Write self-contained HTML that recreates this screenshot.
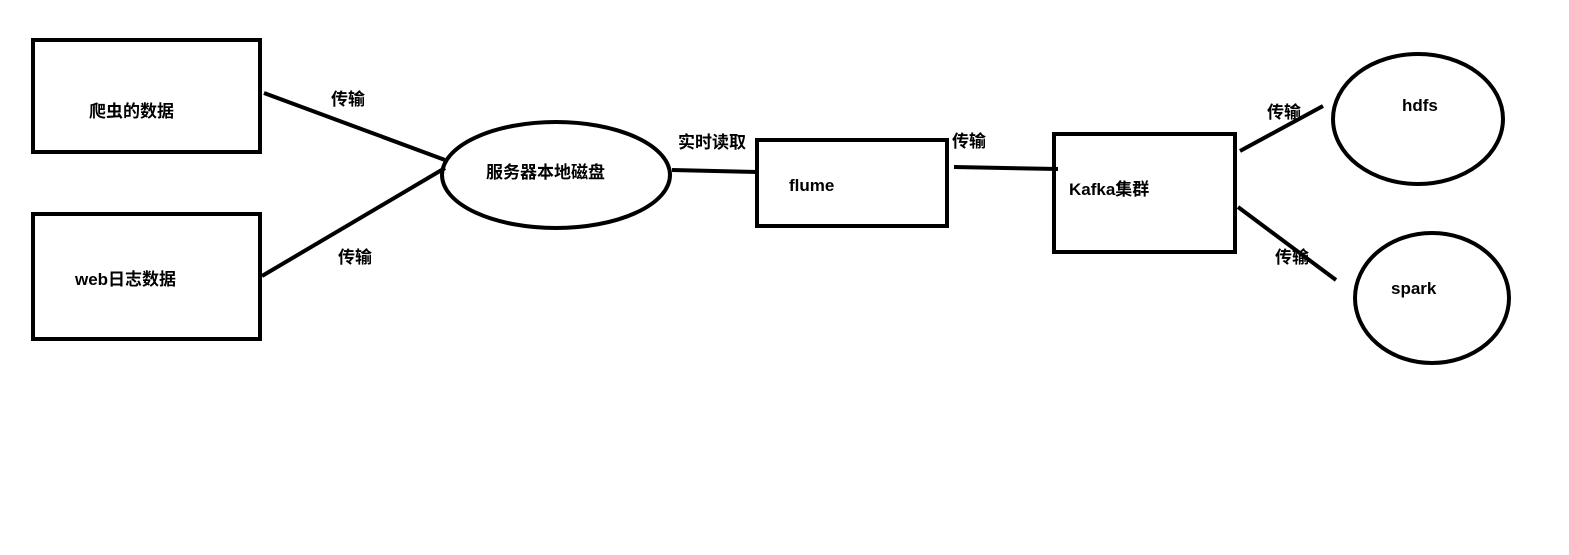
<!DOCTYPE html>
<html><head><meta charset="utf-8"><style>
html,body{margin:0;padding:0;background:#fff;}
svg text{font-family:"Liberation Sans","Noto Sans CJK SC",sans-serif;font-weight:bold;font-size:17px;fill:#000;}
</style></head><body>
<svg width="1569" height="550" viewBox="0 0 1569 550" xmlns="http://www.w3.org/2000/svg">
<g fill="none" stroke="#000" stroke-width="4">
<rect x="33" y="40" width="227" height="112"/>
<rect x="33" y="214" width="227" height="125"/>
<ellipse cx="556" cy="175" rx="114" ry="53"/>
<rect x="757" y="140" width="190" height="86"/>
<rect x="1054" y="134" width="181" height="118"/>
<ellipse cx="1418" cy="119" rx="85" ry="65"/>
<ellipse cx="1432" cy="298" rx="77" ry="65"/>
<line x1="264" y1="93" x2="445" y2="160"/>
<line x1="262" y1="276" x2="445" y2="168"/>
<line x1="672" y1="170" x2="757" y2="172"/>
<line x1="954" y1="167" x2="1058" y2="169"/>
<line x1="1240" y1="151" x2="1323" y2="106"/>
<line x1="1238" y1="207" x2="1336" y2="280"/>
</g>
<text x="89" y="117">爬虫的数据</text>
<text x="75" y="285">web日志数据</text>
<text x="486" y="178">服务器本地磁盘</text>
<text x="331" y="105">传输</text>
<text x="338" y="263">传输</text>
<text x="678" y="148">实时读取</text>
<text x="789" y="191">flume</text>
<text x="952" y="147">传输</text>
<text x="1069" y="195">Kafka集群</text>
<text x="1267" y="118">传输</text>
<text x="1275" y="263">传输</text>
<text x="1402" y="111">hdfs</text>
<text x="1391" y="294">spark</text>
</svg>
</body></html>
